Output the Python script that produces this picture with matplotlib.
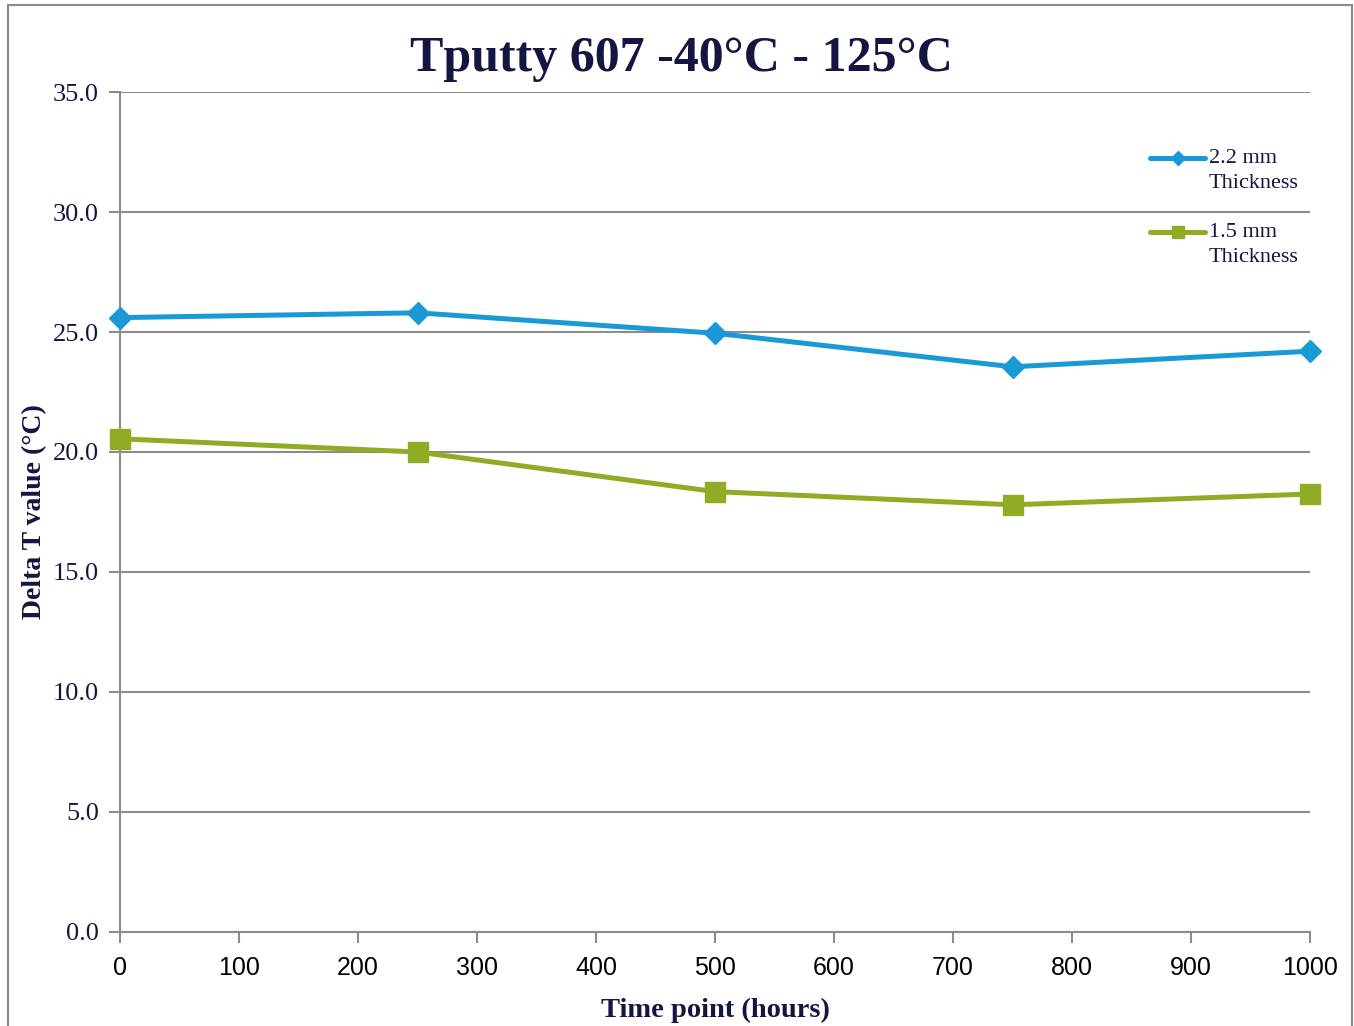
import matplotlib
matplotlib.use("Agg")
import matplotlib.pyplot as plt
from matplotlib.patches import Rectangle
from matplotlib.lines import Line2D

hours = [0, 250, 500, 750, 1000]
thick_22 = [25.6, 25.8, 24.95, 23.55, 24.2]
thick_15 = [20.55, 20.0, 18.35, 17.8, 18.25]
series_labels = ["2.2 mm\nThickness", "1.5 mm\nThickness"]
x_ticks = list(range(0, 1001, 100))
y_ticks = [0, 5, 10, 15, 20, 25, 30, 35]

navy = "#141641"
grid_c = "#8c8c8c"
blue = "#199AD6"
green = "#8FAC24"
serif = ["Liberation Serif", "DejaVu Serif"]
sans = ["Liberation Sans", "DejaVu Sans"]

fig = plt.figure(figsize=(13.54, 10.26), dpi=100)
W, H = 1354, 1026
fig.patches.append(Rectangle((8 / W, -0.01), (1352 - 8) / W, (1026 - 5) / H + 0.01,
                             transform=fig.transFigure, fill=False,
                             edgecolor="#8a8a8a", linewidth=1.5))

ax = fig.add_axes([120 / W, (H - 932) / H, (1310 - 120) / W, (932 - 92) / H])
ax.plot(hours, thick_22, color=blue, linewidth=3.6, marker="D", markersize=11,
        label=series_labels[0], zorder=3, clip_on=False)
ax.plot(hours, thick_15, color=green, linewidth=3.6, marker="s", markersize=14,
        label=series_labels[1], zorder=3, clip_on=False)

ax.set_xlim(0, 1000)
ax.set_ylim(0, 35)
ax.set_xticks(x_ticks)
ax.set_yticks(y_ticks)
ax.set_yticklabels([f"{v:.1f}" for v in y_ticks], fontfamily=serif, fontsize=19, color=navy)
ax.set_xticklabels([str(v) for v in x_ticks], fontfamily=sans, fontsize=18, color="black")
ax.yaxis.grid(True, color=grid_c, linewidth=1.5)
ax.set_axisbelow(True)
for s in ["top", "right"]:
    ax.spines[s].set_visible(False)
for s in ["left", "bottom"]:
    ax.spines[s].set_color(grid_c)
    ax.spines[s].set_linewidth(1.5)
ax.tick_params(axis="y", direction="out", length=8, width=1.5, color=grid_c, pad=7)
ax.tick_params(axis="x", direction="out", length=8, width=1.5, color=grid_c, pad=9)

ax.set_xlabel("Time point (hours)", fontfamily=serif, fontsize=20.5, fontweight="bold",
              color=navy, labelpad=13)
ax.set_ylabel("Delta T value (°C)", fontfamily=serif, fontsize=20, fontweight="bold",
              color=navy, labelpad=4)
fig.text((412 + 950) / 2 / W, 1 - 59 / H, "Tputty 607 -40°C - 125°C", ha="center", va="center",
         fontfamily=serif, fontsize=36, fontweight="bold", color=navy)

# manual legend (handle aligned with first text line, as in the reference)
legend_items = [(series_labels[0], blue, "D", 7, 158), (series_labels[1], green, "s", 9, 232)]
for label, col, mk, ms, ypix in legend_items:
    yf = 1 - ypix / H
    fig.add_artist(Line2D([1150 / W, 1205 / W], [yf, yf], transform=fig.transFigure,
                          color=col, linewidth=3.6, solid_capstyle="round"))
    fig.add_artist(Line2D([1177.5 / W], [yf], transform=fig.transFigure, color=col,
                          marker=mk, markersize=ms, linestyle="none"))
    fig.text(1209 / W, 1 - (ypix - 9) / H, label, ha="left", va="top", fontfamily=serif,
             fontsize=16, color=navy, linespacing=1.4)

fig.savefig("out.png", dpi=100)
